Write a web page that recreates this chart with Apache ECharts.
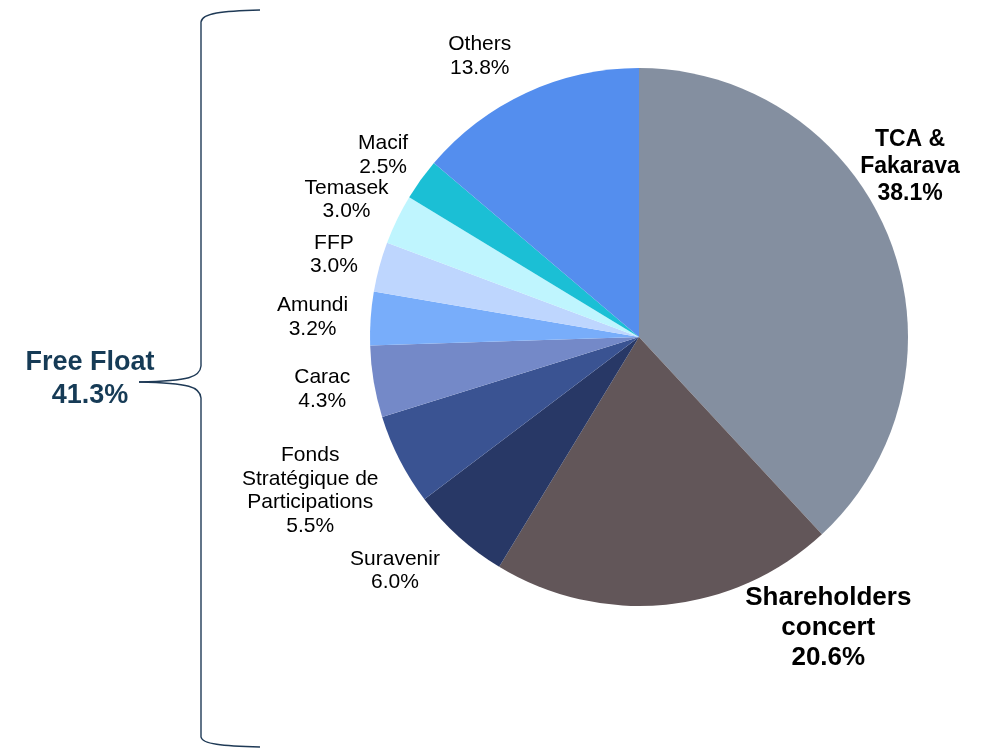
<!DOCTYPE html>
<html>
<head>
<meta charset="utf-8">
<script src="https://cdn.jsdelivr.net/npm/echarts@6/dist/echarts.min.js"></script>
<style>
html,body{margin:0;padding:0;background:#fff;}
#main{width:983px;height:749px;}
</style>
</head>
<body>
<div id="main"></div>
<script>
const categories = ['TCA &\nFakarava', 'Shareholders\nconcert', 'Suravenir', 'Fonds\nStratégique de\nParticipations', 'Carac', 'Amundi', 'FFP', 'Temasek', 'Macif', 'Others'];
const shares = [38.1, 20.6, 6.0, 5.5, 4.3, 3.2, 3.0, 3.0, 2.5, 13.8];
const freeFloatLabel = 'Free Float';
const freeFloatValue = 41.3;

const colors = ['#848FA0', '#625659', '#283866', '#3A5392', '#7489C8', '#78ADFA', '#BED6FE', '#BFF5FE', '#1BBFD5', '#548EEE'];
const boldIdx = { 0: 23, 1: 26 };
// label placement: [radial distance, angle tweak in degrees]
const labelPlace = [[320, -10.7], [347, -27.3], [338, 4.1], [363, 2.1], [321, 0.2], [327, -0.5], [316, 0], [323, -0.8], [314, -0.4], [323, -4.7]];

const CX = 639, CY = 337, R = 269;
const total = shares.reduce((a, b) => a + b, 0);
const midAngles = [];
let acc = 0;
shares.forEach(v => { midAngles.push((acc + v / 2) / total * 360); acc += v; });

const data = categories.map((name, i) => {
  const item = { name: name, value: shares[i], itemStyle: { color: colors[i] } };
  if (boldIdx[i]) {
    item.label = { fontWeight: 'bold', fontSize: boldIdx[i], lineHeight: boldIdx[i] === 26 ? 30 : 27 };
  }
  return item;
});

const braceStyle = { fill: 'none', stroke: '#1F3A56', lineWidth: 1.4 };
const chart = echarts.init(document.getElementById('main'));
chart.setOption({
  backgroundColor: '#ffffff',
  animation: false,
  series: [{
    type: 'pie',
    center: [CX, CY],
    radius: R,
    startAngle: 90,
    clockwise: true,
    avoidLabelOverlap: false,
    data: data,
    itemStyle: { borderWidth: 0 },
    label: {
      show: true,
      position: 'outside',
      color: '#000',
      fontFamily: 'Liberation Sans, Arial, sans-serif',
      fontSize: 21,
      lineHeight: 23.5,
      formatter: p => p.name + '\n' + p.value.toFixed(1) + '%'
    },
    labelLine: { show: false },
    labelLayout: function (params) {
      const i = params.dataIndex;
      const pl = labelPlace[i];
      const th = (midAngles[i] + pl[1]) * Math.PI / 180;
      return {
        x: CX + pl[0] * Math.sin(th),
        y: CY - pl[0] * Math.cos(th),
        align: 'center',
        verticalAlign: 'middle'
      };
    },
    emphasis: { disabled: true }
  }],
  graphic: [
    { type: 'bezierCurve', shape: { x1: 260, y1: 10, cpx1: 222, cpy1: 11, cpx2: 202, cpy2: 13, x2: 201, y2: 22 }, style: braceStyle },
    { type: 'line', shape: { x1: 201, y1: 22, x2: 201, y2: 366 }, style: braceStyle },
    { type: 'bezierCurve', shape: { x1: 201, y1: 366, cpx1: 200, cpy1: 377, cpx2: 190, cpy2: 381, x2: 139, y2: 382 }, style: braceStyle },
    { type: 'bezierCurve', shape: { x1: 139, y1: 382, cpx1: 190, cpy1: 383, cpx2: 200, cpy2: 387, x2: 201, y2: 398 }, style: braceStyle },
    { type: 'line', shape: { x1: 201, y1: 398, x2: 201, y2: 737 }, style: braceStyle },
    { type: 'bezierCurve', shape: { x1: 201, y1: 737, cpx1: 202, cpy1: 744, cpx2: 222, cpy2: 746, x2: 260, y2: 747 }, style: braceStyle },
    {
      type: 'text',
      style: {
        x: 90, y: 379,
        text: freeFloatLabel + '\n' + freeFloatValue.toFixed(1) + '%',
        align: 'center',
        verticalAlign: 'middle',
        fill: '#163B56',
        font: 'bold 27px "Liberation Sans", Arial, sans-serif',
        lineHeight: 33
      }
    }
  ]
});
</script>
</body>
</html>
